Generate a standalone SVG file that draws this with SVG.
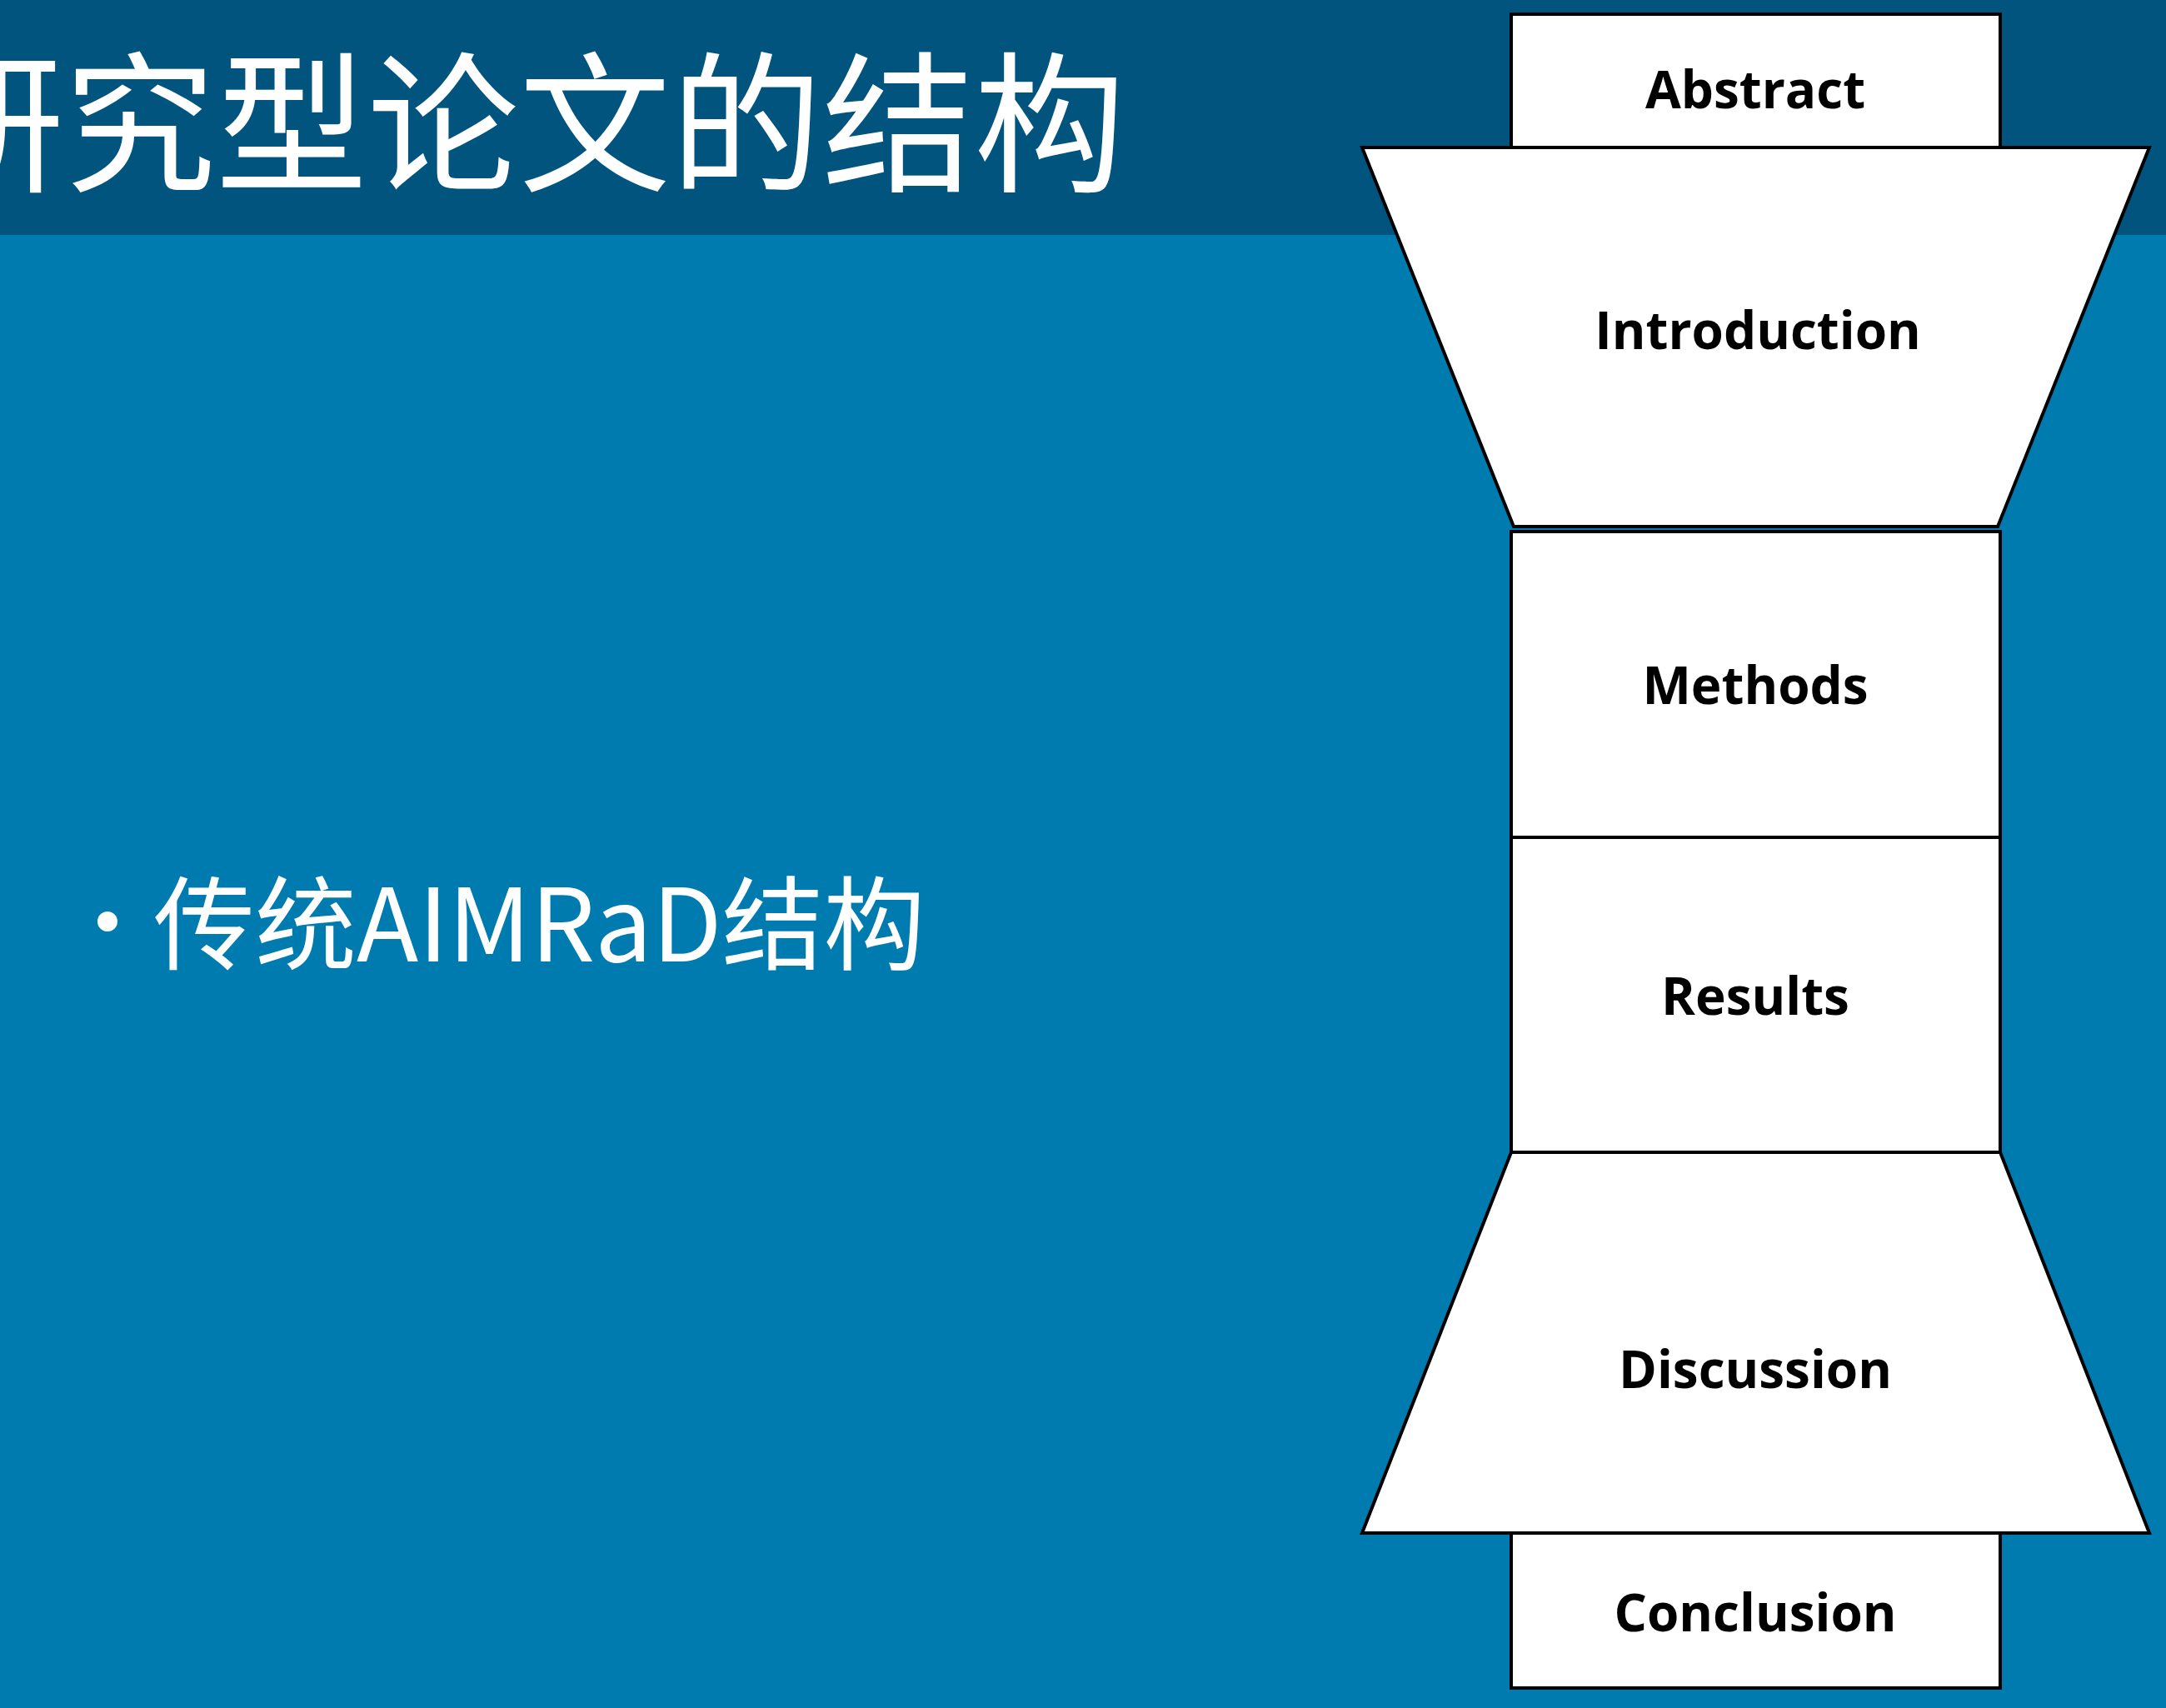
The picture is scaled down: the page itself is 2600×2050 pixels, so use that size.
<svg xmlns="http://www.w3.org/2000/svg" width="2600" height="2050" viewBox="0 0 2600 2050">
<style>
.s{fill:#fff;stroke:#000;stroke-width:4}
.l{font-family:"Open Sans","Noto Sans",sans-serif;font-weight:bold;font-size:62px;fill:#000;text-anchor:middle}
.w{font-family:"Noto Sans CJK SC","Noto Sans",sans-serif;fill:#fff}
</style>
<rect x="0" y="0" width="2600" height="2050" fill="#007BAF"/>
<rect x="0" y="0" width="2600" height="282" fill="#00547E"/>
<text class="w" x="-105" y="216" font-size="182">研究型论文的结构</text>
<circle cx="129" cy="1106" r="12" fill="#fff"/>
<text class="w" x="184" y="1154" font-size="122">传统AIMRaD结构</text>
<g id="abstract"><rect class="s" x="1814" y="17" width="587" height="160"/><text class="l" x="2107" y="130">Abstract</text></g>
<g id="introduction"><polygon class="s" points="1635,177 2580,177 2398,632 1817,632"/><text class="l" x="2110" y="419">Introduction</text></g>
<g id="methods"><rect class="s" x="1814" y="638" width="587" height="367"/><text class="l" x="2107" y="845">Methods</text></g>
<g id="results"><rect class="s" x="1814" y="1005" width="587" height="378"/><text class="l" x="2107" y="1218">Results</text></g>
<g id="discussion"><polygon class="s" points="1814,1383 2401,1383 2580,1840 1635,1840"/><text class="l" x="2107" y="1666">Discussion</text></g>
<g id="conclusion"><rect class="s" x="1814" y="1840" width="587" height="186"/><text class="l" x="2107" y="1958">Conclusion</text></g>
<g id="connectors"></g>
</svg>
